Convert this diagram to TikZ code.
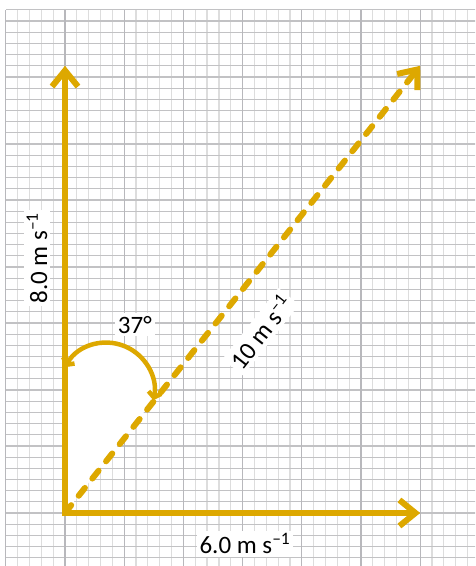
\documentclass[tikz,border=0pt]{standalone}
\usepackage{fontspec}
\setmainfont{Carlito}
\usepackage{tikz}
\usetikzlibrary{arrows.meta,positioning,calc}
\definecolor{gold}{HTML}{DDA800}
\definecolor{gridrow}{HTML}{C2C2C4}
\definecolor{gridminor}{HTML}{DDDDDD}
\definecolor{gridmajor}{HTML}{B8B8BC}
\tikzset{
  >={Straight Barb[length=16pt,width=26pt]},
  vector/.style={->,draw=gold,line width=6pt},
  dashedvector/.style={vector,dash pattern=on 10pt off 12pt,line cap=round},
  anglemark/.style={{Straight Barb[length=5pt,width=13pt]}-{Straight Barb[length=5pt,width=13pt]},
                    draw=gold,line width=4.5pt},
  labeltext/.style={fill=white,inner sep=3pt,anchor=base,font=\fontsize{25}{30}\selectfont},
  rowline/.style={draw=gridrow,line width=1.2pt},
  minorline/.style={draw=gridminor,line width=1.2pt},
  majorline/.style={draw=gridmajor,line width=1.2pt},
}

\begin{document}
\begin{tikzpicture}[x=59.2pt,y=55.9pt]
  \useasboundingbox (-65pt,-53pt) rectangle (410pt,513pt);
  \clip (-65pt,-53pt) rectangle (410pt,513pt);
  % grid paper
  \foreach \i in {-5,...,34} \draw[minorline] (\i/5,-1) -- (\i/5,9);
  \foreach \j in {-4,...,45} \draw[rowline] (-1,\j/5) -- (7,\j/5);
  \foreach \i in {-1,...,6} \draw[majorline] (\i,-1) -- (\i,9);

  \coordinate (O) at (0,0);
  \coordinate (vy) at (0,8);
  \coordinate (vx) at (6,0);
  \coordinate (vr) at (6,8);
  \coordinate (c) at (41.7pt,122.7pt);
  \coordinate (a0) at ($(c)+(151:47.6pt)$);

  % angle wedge
  \fill[white] (O) -- (a0) arc[start angle=151,end angle=-12,radius=47.6pt] -- cycle;

  \draw[vector,shorten <=-3pt] (O) -- (vy);
  \draw[vector] (O) -- (vx);
  \draw[dashedvector] (O) -- (vr);
  \draw[anglemark] (a0) arc[start angle=151,end angle=-12,radius=47.6pt];

  \node[labeltext,rotate=90] (ly) at (-0.304,4.56) {8.0 m s\textsuperscript{–1}};
  \node[labeltext] (la) at (1.18,3.22) {37°};
  \node[labeltext,rotate=51.7] (lr) at (3.44,3.13) {10 m s\textsuperscript{–1}};
  \node[labeltext] (lx) at (3.04,-0.733) {6.0 m s\textsuperscript{–1}};
\end{tikzpicture}
\end{document}
